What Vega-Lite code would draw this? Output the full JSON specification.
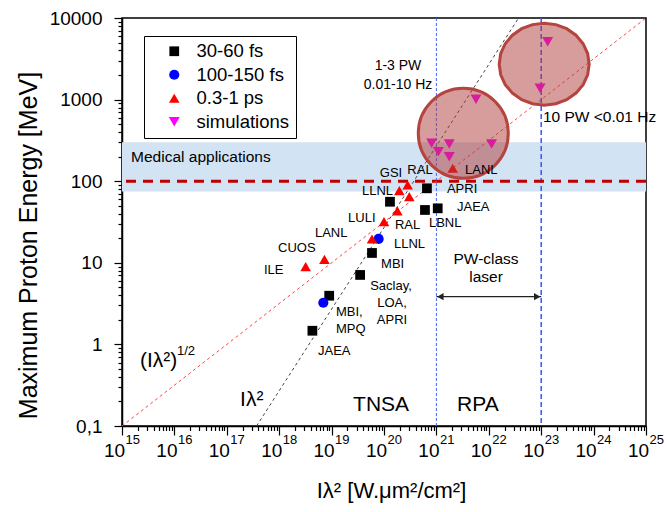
{
  "$schema": "https://vega.github.io/schema/vega-lite/v6.json",
  "width": 524,
  "height": 408,
  "autosize": {"type": "none"},
  "padding": {"left": 122, "top": 18, "right": 21, "bottom": 86},
  "background": "white",
  "config": {
    "font": "Liberation Sans",
    "view": {"stroke": "black", "strokeWidth": 1.5},
    "axis": {"grid": false, "domainColor": "black", "domainWidth": 1.5, "tickColor": "black", "tickWidth": 1.2, "labelColor": "black", "titleColor": "black", "titleFontWeight": "normal", "labelFont": "Liberation Sans", "titleFont": "Liberation Sans", "labelOverlap": false, "labelFlush": false, "labelBound": false},
    "legend": {"padding": 6, "strokeColor": "black", "strokeWidth": 1, "fillColor": "white", "labelFontSize": 18.5, "labelFont": "Liberation Sans", "labelColor": "black", "symbolOffset": 15, "labelOffset": 13, "rowPadding": 4.5, "symbolStrokeWidth": 0, "symbolOpacity": 1},
    "text": {"font": "Liberation Sans", "color": "black"}
  },
  "datasets": {
    "pts": [
      {"x": 4.3e18, "y": 1.47, "type": "30-60 fs"},
      {"x": 9e18, "y": 3.95, "type": "30-60 fs"},
      {"x": 3.5e19, "y": 7.1, "type": "30-60 fs"},
      {"x": 5.9e19, "y": 13.2, "type": "30-60 fs"},
      {"x": 1.3e20, "y": 56, "type": "30-60 fs"},
      {"x": 6.05e20, "y": 44.4, "type": "30-60 fs"},
      {"x": 1.06e21, "y": 46.5, "type": "30-60 fs"},
      {"x": 6.6e20, "y": 81.8, "type": "30-60 fs"},
      {"x": 6.95e18, "y": 3.24, "type": "100-150 fs"},
      {"x": 7.9e19, "y": 19.6, "type": "100-150 fs"},
      {"x": 3.2e18, "y": 8.96, "type": "0.3-1 ps"},
      {"x": 7.3e18, "y": 11, "type": "0.3-1 ps"},
      {"x": 5.9e19, "y": 19.6, "type": "0.3-1 ps"},
      {"x": 1e20, "y": 31.9, "type": "0.3-1 ps"},
      {"x": 1.8e20, "y": 43.2, "type": "0.3-1 ps"},
      {"x": 3.04e20, "y": 64.6, "type": "0.3-1 ps"},
      {"x": 1.96e20, "y": 76.5, "type": "0.3-1 ps"},
      {"x": 2.83e20, "y": 89.9, "type": "0.3-1 ps"},
      {"x": 2.05e21, "y": 144, "type": "0.3-1 ps"},
      {"x": 1.33e23, "y": 5120, "type": "simulations"},
      {"x": 9.5e22, "y": 1375, "type": "simulations"},
      {"x": 5.7e21, "y": 1008, "type": "simulations"},
      {"x": 8.1e20, "y": 291, "type": "simulations"},
      {"x": 1.09e21, "y": 230, "type": "simulations"},
      {"x": 1.76e21, "y": 286, "type": "simulations"},
      {"x": 1.76e21, "y": 200, "type": "simulations"},
      {"x": 1.13e22, "y": 286, "type": "simulations"}
    ],
    "labelsLeft": [
      {"x": 3.52e21, "y": 137, "t": "LANL"},
      {"x": 1.59e21, "y": 80.2, "t": "APRI"},
      {"x": 2.47e21, "y": 48.3, "t": "JAEA"},
      {"x": 7.2e20, "y": 30.7, "t": "LBNL"},
      {"x": 1.62e20, "y": 29.1, "t": "RAL"},
      {"x": 1.55e20, "y": 17.0, "t": "LLNL"},
      {"x": 8.8e19, "y": 9.67, "t": "MBI"},
      {"x": 1.21e19, "y": 2.49, "t": "MBI,"},
      {"x": 1.21e19, "y": 1.545, "t": "MPQ"},
      {"x": 5.5e18, "y": 0.83, "t": "JAEA"},
      {"x": 5.1e17, "y": 8.16, "t": "ILE"},
      {"x": 9.5e17, "y": 15.2, "t": "CUOS"},
      {"x": 4.8e18, "y": 23.2, "t": "LANL"},
      {"x": 2.06e19, "y": 35.4, "t": "LULI"},
      {"x": 3.8e19, "y": 75.9, "t": "LLNL"}
    ],
    "labelsCenter": [
      {"x": 1.36e20, "y": 126, "t": "GSI"},
      {"x": 4.86e20, "y": 137, "t": "RAL"},
      {"x": 1.36e20, "y": 5.2, "t": "Saclay,"},
      {"x": 1.42e20, "y": 3.22, "t": "LOA,"},
      {"x": 1.42e20, "y": 1.99, "t": "APRI"}
    ],
    "exps": [
      {"x": 1e15, "e": "15"}, {"x": 1e16, "e": "16"}, {"x": 1e17, "e": "17"}, {"x": 1e18, "e": "18"},
      {"x": 1e19, "e": "19"}, {"x": 1e20, "e": "20"}, {"x": 1e21, "e": "21"}, {"x": 1e22, "e": "22"},
      {"x": 1e23, "e": "23"}, {"x": 1e24, "e": "24"}, {"x": 1e25, "e": "25"}
    ]
  },
  "layer": [
    {
      "data": {"values": [{"lo": 75, "hi": 300}]},
      "mark": {"type": "rect", "color": "#d2e3f3"},
      "encoding": {
        "x": {"datum": 1e15, "type": "quantitative",
          "scale": {"type": "log", "domain": [1e15, 1e25], "nice": false},
          "axis": {
            "values": [1e15,2e15,3e15,4e15,5e15,6e15,7e15,8e15,9e15,1e16,2e16,3e16,4e16,5e16,6e16,7e16,8e16,9e16,1e17,2e17,3e17,4e17,5e17,6e17,7e17,8e17,9e17,1e18,2e18,3e18,4e18,5e18,6e18,7e18,8e18,9e18,1e19,2e19,3e19,4e19,5e19,6e19,7e19,8e19,9e19,1e20,2e20,3e20,4e20,5e20,6e20,7e20,8e20,9e20,1e21,2e21,3e21,4e21,5e21,6e21,7e21,8e21,9e21,1e22,2e22,3e22,4e22,5e22,6e22,7e22,8e22,9e22,1e23,2e23,3e23,4e23,5e23,6e23,7e23,8e23,9e23,1e24,2e24,3e24,4e24,5e24,6e24,7e24,8e24,9e24,1e25],
            "labelExpr": "abs(log(datum.value)/LN10 - round(log(datum.value)/LN10)) < 0.001 ? '10' : ''",
            "tickSize": {"condition": {"test": "abs(log(datum.value)/LN10 - round(log(datum.value)/LN10)) < 0.001", "value": 9}, "value": 4.5},
            "labelFontSize": 19,
            "labelPadding": 6,
            "labelOffset": -8,
            "title": "Iλ² [W.μm²/cm²]",
            "titleFontSize": 22,
            "titleX": 269,
            "titleY": 64,
            "titleBaseline": "middle"
          }
        },
        "x2": {"datum": 1e25},
        "y": {"field": "lo", "type": "quantitative",
          "scale": {"type": "log", "domain": [0.1, 10000], "nice": false},
          "axis": {
            "values": [0.1,0.2,0.3,0.4,0.5,0.6,0.7,0.8,0.9,1,2,3,4,5,6,7,8,9,10,20,30,40,50,60,70,80,90,100,200,300,400,500,600,700,800,900,1000,2000,3000,4000,5000,6000,7000,8000,9000,10000],
            "labelExpr": "abs(log(datum.value)/LN10 - round(log(datum.value)/LN10)) < 0.001 ? (datum.value < 1 ? '0,1' : format(datum.value, 'd')) : ''",
            "tickSize": {"condition": {"test": "abs(log(datum.value)/LN10 - round(log(datum.value)/LN10)) < 0.001", "value": 8}, "value": 4},
            "labelFontSize": 19,
            "labelPadding": 12,
            "title": "Maximum Proton Energy [MeV]",
            "titleFontSize": 25,
            "titleX": -94,
            "titleY": 227,
            "titleAngle": -90,
            "titleBaseline": "middle"
          }
        },
        "y2": {"field": "hi"}
      }
    },
    {
      "data": {"values": [{"x": 1e21}]},
      "mark": {"type": "rule", "color": "#4466ff", "strokeWidth": 1, "strokeDash": [3, 2]},
      "encoding": {"x": {"field": "x", "type": "quantitative"}}
    },
    {
      "data": {"values": [{"x": 1e23}]},
      "mark": {"type": "rule", "color": "#3355ff", "strokeWidth": 1.5, "strokeDash": [5, 3]},
      "encoding": {"x": {"field": "x", "type": "quantitative"}}
    },
    {
      "data": {"values": [{"y": 100}]},
      "mark": {"type": "rule", "color": "#c00000", "strokeWidth": 3, "strokeDash": [10, 7]},
      "encoding": {"y": {"field": "y", "type": "quantitative"}}
    },
    {
      "data": {"values": [{"x": 3.7e17, "y": 0.1}, {"x": 3.7e22, "y": 10000}]},
      "mark": {"type": "line", "color": "#444444", "strokeWidth": 1, "strokeDash": [3, 3]},
      "encoding": {"x": {"field": "x", "type": "quantitative"}, "y": {"field": "y", "type": "quantitative"}}
    },
    {
      "data": {"values": [{"x": 1e15, "y": 0.1}, {"x": 1e25, "y": 10000}]},
      "mark": {"type": "line", "color": "#ff4444", "strokeWidth": 1, "strokeDash": [3, 3]},
      "encoding": {"x": {"field": "x", "type": "quantitative"}, "y": {"field": "y", "type": "quantitative"}}
    },
    {
      "data": {"name": "pts"},
      "mark": {"type": "point", "filled": true, "opacity": 1},
      "encoding": {
        "x": {"field": "x", "type": "quantitative"},
        "y": {"field": "y", "type": "quantitative"},
        "shape": {"field": "type", "type": "nominal",
          "scale": {"domain": ["30-60 fs", "100-150 fs", "0.3-1 ps", "simulations"], "range": ["square", "circle", "triangle-up", "triangle-down"]},
          "legend": {"title": null, "orient": "none", "legendX": 22, "legendY": 18}},
        "color": {"field": "type", "type": "nominal",
          "scale": {"domain": ["30-60 fs", "100-150 fs", "0.3-1 ps", "simulations"], "range": ["#000000", "#0000ff", "#ff0000", "#ff00ff"]},
          "legend": {"title": null, "orient": "none", "legendX": 22, "legendY": 18}},
        "size": {"field": "type", "type": "nominal",
          "scale": {"domain": ["30-60 fs", "100-150 fs", "0.3-1 ps", "simulations"], "range": [95, 120, 150, 150]},
          "legend": {"title": null, "orient": "none", "legendX": 22, "legendY": 18}}
      }
    },
    {
      "data": {"values": [{"x": 3.26e21, "y": 386}]},
      "mark": {"type": "point", "shape": "circle", "size": 8100, "filled": true, "fill": "#b03a3a", "fillOpacity": 0.5, "stroke": "#b5443e", "strokeWidth": 3, "strokeOpacity": 1, "opacity": 1},
      "encoding": {"x": {"field": "x", "type": "quantitative"}, "y": {"field": "y", "type": "quantitative"}}
    },
    {
      "data": {"values": [{"x": 1.14e23, "y": 2718}]},
      "mark": {"type": "point", "shape": "M 1 0 L 0.966 0.236 L 0.866 0.455 L 0.707 0.643 L 0.5 0.788 L 0.259 0.879 L 0 0.91 L -0.259 0.879 L -0.5 0.788 L -0.707 0.643 L -0.866 0.455 L -0.966 0.236 L -1 0 L -0.966 -0.236 L -0.866 -0.455 L -0.707 -0.643 L -0.5 -0.788 L -0.259 -0.879 L 0 -0.91 L 0.259 -0.879 L 0.5 -0.788 L 0.707 -0.643 L 0.866 -0.455 L 0.966 -0.236 Z", "size": 8100, "filled": true, "fill": "#b03a3a", "fillOpacity": 0.5, "stroke": "#b5443e", "strokeWidth": 3, "strokeOpacity": 1, "opacity": 1},
      "encoding": {"x": {"field": "x", "type": "quantitative"}, "y": {"field": "y", "type": "quantitative"}}
    },
    {
      "data": {"values": [{"x": 1e21, "x2": 1e23, "y": 3.85}]},
      "mark": {"type": "rule", "color": "#222222", "strokeWidth": 1.3},
      "encoding": {"x": {"field": "x", "type": "quantitative"}, "x2": {"field": "x2"}, "y": {"field": "y", "type": "quantitative"}}
    },
    {
      "data": {"values": [{"x": 1.19e21, "y": 3.85}]},
      "mark": {"type": "point", "shape": "triangle-left", "size": 55, "filled": true, "color": "#222222", "opacity": 1},
      "encoding": {"x": {"field": "x", "type": "quantitative"}, "y": {"field": "y", "type": "quantitative"}}
    },
    {
      "data": {"values": [{"x": 8.39e22, "y": 3.85}]},
      "mark": {"type": "point", "shape": "triangle-right", "size": 55, "filled": true, "color": "#222222", "opacity": 1},
      "encoding": {"x": {"field": "x", "type": "quantitative"}, "y": {"field": "y", "type": "quantitative"}}
    },
    {
      "data": {"name": "labelsLeft"},
      "mark": {"type": "text", "fontSize": 13, "align": "left", "baseline": "middle"},
      "encoding": {"x": {"field": "x", "type": "quantitative"}, "y": {"field": "y", "type": "quantitative"}, "text": {"field": "t"}}
    },
    {
      "data": {"name": "labelsCenter"},
      "mark": {"type": "text", "fontSize": 13, "align": "center", "baseline": "middle"},
      "encoding": {"x": {"field": "x", "type": "quantitative"}, "y": {"field": "y", "type": "quantitative"}, "text": {"field": "t"}}
    },
    {
      "data": {"values": [{"x": 1.85e20, "y": 2580, "t": "1-3 PW"}, {"x": 1.85e20, "y": 1510, "t": "0.01-10 Hz"}]},
      "mark": {"type": "text", "fontSize": 14, "align": "center", "baseline": "middle"},
      "encoding": {"x": {"field": "x", "type": "quantitative"}, "y": {"field": "y", "type": "quantitative"}, "text": {"field": "t"}}
    },
    {
      "data": {"values": [{"x": 1.08e23, "y": 612, "t": "10 PW <0.01 Hz"}, {"x": 1.49e15, "y": 198, "t": "Medical applications"}]},
      "mark": {"type": "text", "fontSize": 15.5, "align": "left", "baseline": "middle"},
      "encoding": {"x": {"field": "x", "type": "quantitative"}, "y": {"field": "y", "type": "quantitative"}, "text": {"field": "t"}}
    },
    {
      "data": {"values": [{"x": 8.85e21, "y": 11.1, "t": "PW-class"}, {"x": 8.85e21, "y": 6.7, "t": "laser"}]},
      "mark": {"type": "text", "fontSize": 15.5, "align": "center", "baseline": "middle"},
      "encoding": {"x": {"field": "x", "type": "quantitative"}, "y": {"field": "y", "type": "quantitative"}, "text": {"field": "t"}}
    },
    {
      "data": {"values": [{"x": 8.8e19, "y": 0.181, "t": "TNSA"}, {"x": 6.2e21, "y": 0.181, "t": "RPA"}]},
      "mark": {"type": "text", "fontSize": 21, "align": "center", "baseline": "middle"},
      "encoding": {"x": {"field": "x", "type": "quantitative"}, "y": {"field": "y", "type": "quantitative"}, "text": {"field": "t"}}
    },
    {
      "data": {"values": [{"x": 2.21e15, "y": 0.626, "t": "(Iλ²)"}, {"x": 1.79e17, "y": 0.208, "t": "Iλ²"}]},
      "mark": {"type": "text", "fontSize": 21, "align": "left", "baseline": "middle"},
      "encoding": {"x": {"field": "x", "type": "quantitative"}, "y": {"field": "y", "type": "quantitative"}, "text": {"field": "t"}}
    },
    {
      "data": {"values": [{"x": 1.12e16, "y": 0.82, "t": "1/2"}]},
      "mark": {"type": "text", "fontSize": 13, "align": "left", "baseline": "middle"},
      "encoding": {"x": {"field": "x", "type": "quantitative"}, "y": {"field": "y", "type": "quantitative"}, "text": {"field": "t"}}
    },
    {
      "data": {"name": "exps"},
      "mark": {"type": "text", "fontSize": 13, "align": "left", "baseline": "middle", "dx": 3.5, "dy": 14},
      "encoding": {"x": {"field": "x", "type": "quantitative"}, "y": {"datum": 0.1, "type": "quantitative"}, "text": {"field": "e"}}
    }
  ]
}
